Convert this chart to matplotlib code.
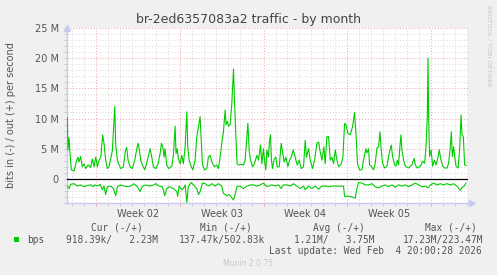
import matplotlib
matplotlib.use("Agg")
import matplotlib.pyplot as plt
from matplotlib.patches import Rectangle
from matplotlib.transforms import blended_transform_factory
import numpy as np

# time in days from the left edge of the graph, values in Mbit/s
OUT_T = [0.03, 0.08, 0.17, 0.25, 0.36, 0.59, 0.81, 0.92, 1.00, 1.14, 1.28, 1.42, 1.56, 1.76, 1.98,
         2.12, 2.26, 2.40, 2.54, 2.68, 2.82, 2.98, 3.09, 3.23, 3.37, 3.51, 3.65, 3.79, 3.87, 3.99,
         4.07, 4.21, 4.35, 4.49, 4.71, 4.88, 4.99, 5.10, 5.27, 5.46, 5.66, 5.83, 5.94, 6.05, 6.16,
         6.30, 6.49, 6.72, 6.94, 7.08, 7.22, 7.41, 7.61, 7.78, 7.89, 8.03, 8.11, 8.19, 8.33, 8.50,
         8.75, 8.89, 9.03, 9.11, 9.20, 9.31, 9.45, 9.59, 9.72, 9.87, 10.01, 10.09, 10.20, 10.37,
         10.51, 10.70, 10.84, 10.98, 11.12, 11.20, 11.31, 11.48, 11.68, 11.81, 11.96, 12.10, 12.32,
         12.51, 12.65, 12.79, 12.93, 13.07, 13.21, 13.29, 13.40, 13.49, 13.63, 13.77, 13.91, 13.99,
         14.11, 14.21, 14.32, 14.55, 14.74, 14.88, 15.03, 15.11, 15.22, 15.33, 15.50, 15.66, 15.86,
         16.00, 16.16, 16.28, 16.41, 16.50, 16.61, 16.70, 16.83, 16.92, 17.00, 17.08, 17.17, 17.31,
         17.45, 17.56, 17.73, 17.89, 18.00, 18.14, 18.29, 18.45, 18.59, 18.73, 18.90, 19.06, 19.23,
         19.40, 19.57, 19.76, 19.90, 20.01, 20.18, 20.32, 20.51, 20.68, 20.88, 21.02, 21.15, 21.30,
         21.46, 21.57, 21.71, 21.85, 21.99, 22.13, 22.27, 22.41, 22.55, 22.69, 22.91, 23.05, 23.19,
         23.30, 23.47, 23.66, 23.86, 24.02, 24.14, 24.27, 24.44, 24.64, 24.77, 24.97, 25.06, 25.19,
         25.28, 25.42, 25.61, 25.75, 25.89, 26.03, 26.14, 26.25, 26.36, 26.53, 26.73, 26.87, 27.01,
         27.09, 27.20, 27.37, 27.48, 27.59, 27.70, 27.81, 27.90, 27.98, 28.12, 28.26, 28.54, 28.82,
         28.99, 29.10, 29.26, 29.52, 29.71, 29.88, 29.99, 30.10, 30.16, 30.21, 30.29, 30.41, 30.55,
         30.69, 30.83, 31.00, 31.10, 31.21, 31.38, 31.55, 31.75, 31.88, 32.02, 32.11, 32.19, 32.30,
         32.39, 32.50, 32.67, 32.80, 32.92, 33.00, 33.11, 33.22, 33.33]
OUT_V = [10.2, 4.8, 6.8, 4.3, 1.5, 1.3, 3.1, 3.6, 2.8, 3.7, 2.0, 2.5, 1.7, 2.3, 1.9,
         3.3, 2.0, 3.6, 2.0, 3.1, 3.6, 7.3, 5.9, 3.1, 1.7, 2.0, 3.3, 4.7, 7.5, 12.0,
         5.6, 3.1, 2.3, 1.7, 2.0, 4.7, 5.2, 3.1, 2.0, 1.7, 3.1, 5.0, 5.9, 4.7, 3.1,
         2.3, 1.5, 3.1, 5.0, 3.6, 2.0, 1.7, 2.5, 4.2, 5.9, 5.0, 3.6, 5.0, 2.3, 1.7,
         2.1, 3.9, 8.7, 4.2, 5.0, 3.3, 2.5, 3.9, 2.5, 5.3, 11.1, 5.3, 3.1, 2.1,
         1.5, 3.1, 7.0, 8.7, 10.3, 7.0, 2.5, 1.5, 1.7, 3.6, 3.9, 2.8, 2.0,
         2.3, 1.7, 3.6, 5.9, 7.8, 11.4, 9.0, 9.5, 8.7, 9.0, 12.5, 18.2, 13.1,
         7.0, 2.5, 2.3, 2.4, 2.3, 3.1, 7.0, 9.2, 4.7, 3.1, 2.0, 2.5, 3.9,
         3.1, 5.6, 2.5, 5.0, 3.1, 1.5, 4.8, 3.6, 6.4, 7.3, 3.1, 1.7, 3.3,
         3.6, 2.0, 2.0, 5.9, 4.5, 2.8, 3.6, 2.0, 3.1, 3.6, 4.8, 3.6, 2.3,
         3.1, 1.7, 2.0, 6.4, 3.6, 5.0, 3.1, 1.7, 3.1, 5.9, 6.1, 4.5, 3.1,
         5.3, 2.5, 7.0, 7.0, 3.1, 3.6, 2.5, 4.8, 3.1, 2.0, 2.5, 3.6, 9.2,
         9.0, 7.5, 7.3, 8.7, 11.0, 7.5, 2.5, 1.5, 1.5, 3.1, 5.0, 4.3, 5.0,
         2.3, 2.1, 1.5, 2.6, 5.1, 5.3, 7.8, 4.8, 2.6, 1.8, 2.1, 3.7, 5.1,
         5.6, 3.7, 2.3, 2.1, 3.1, 2.3, 5.3, 7.3, 4.8, 3.1, 2.1, 1.8, 2.3,
         3.4, 2.3, 1.8, 2.1, 2.9, 2.6, 5.3, 10.3, 20.0, 10.3, 3.7, 4.8, 2.1,
         3.1, 2.3, 3.7, 4.8, 3.4, 2.1, 1.8, 1.8, 2.6, 5.3, 7.8, 3.7, 5.3,
         3.7, 2.1, 1.8, 4.8, 10.6, 7.3, 7.0, 2.3, 2.2]

IN_T = [0.03, 0.17, 0.31, 0.59, 0.86, 1.14, 1.42, 1.70, 1.98, 2.20, 2.31, 2.54, 2.76, 2.95, 3.09,
        3.23, 3.37, 3.65, 3.87, 4.07, 4.21, 4.49, 4.77, 5.04, 5.32, 5.60, 5.88, 6.10, 6.30, 6.58,
        6.86, 7.13, 7.41, 7.69, 7.97, 8.17, 8.33, 8.53, 8.89, 9.17, 9.25, 9.36, 9.59, 9.72, 9.87,
        10.01, 10.14, 10.37, 10.56, 10.84, 10.98, 11.12, 11.31, 11.54, 11.81, 12.10, 12.37, 12.65,
        12.93, 13.07, 13.35, 13.55, 13.71, 13.91, 14.05, 14.19, 14.46, 14.74, 15.03, 15.30, 15.58,
        15.86, 16.14, 16.41, 16.70, 16.83, 17.11, 17.39, 17.67, 17.89, 18.09, 18.37, 18.65, 18.92,
        19.20, 19.48, 19.76, 19.90, 20.18, 20.46, 20.74, 21.01, 21.29, 21.57, 21.85, 22.13, 22.41,
        22.83, 23.10, 23.19, 23.53, 23.81, 24.08, 24.22, 24.36, 24.64, 24.92, 25.19, 25.47, 25.75,
        26.03, 26.31, 26.59, 26.87, 27.15, 27.42, 27.70, 27.98, 28.26, 28.54, 28.82, 29.10, 29.38,
        29.66, 29.93, 30.16, 30.35, 30.63, 30.91, 31.19, 31.46, 31.74, 32.02, 32.30, 32.58, 32.86,
        33.00, 33.14, 33.33]
IN_V = [-1.2, -1.6, -0.9, -0.8, -1.2, -1.0, -1.3, -1.1, -1.0, -1.3, -1.0, -1.2, -0.9, -1.8, -1.2,
        -2.6, -1.3, -1.2, -1.6, -2.8, -1.3, -1.0, -1.2, -1.3, -1.2, -0.8, -1.3, -2.1, -1.2, -1.0,
        -1.2, -1.1, -0.8, -1.2, -1.3, -2.8, -1.6, -1.3, -1.6, -2.1, -2.9, -1.2, -1.8, -1.6, -1.0,
        -3.9, -1.3, -0.6, -1.0, -1.6, -2.6, -2.1, -0.7, -0.8, -1.2, -0.8, -1.2, -0.8,
        -1.2, -2.4, -2.8, -2.6, -3.0, -3.5, -2.6, -1.3, -1.2, -1.6, -1.2, -1.0, -1.0,
        -1.2, -1.0, -0.7, -1.3, -1.2, -1.0, -1.2, -1.0, -1.6, -1.0, -1.0, -1.2, -0.8,
        -1.2, -1.6, -1.2, -1.8, -1.2, -1.6, -1.2, -1.7, -1.2, -1.2, -1.3, -1.2, -1.2,
        -1.2, -1.2, -2.9, -2.9, -3.0, -3.2, -1.6, -0.6, -0.7, -1.0, -1.0, -0.8, -1.3,
        -1.5, -1.2, -1.0, -1.3, -1.0, -1.4, -1.0, -1.2, -1.0, -1.3, -1.0, -0.7, -1.0,
        -1.3, -1.2, -1.5, -1.0, -0.7, -1.0, -0.8, -1.0, -0.8, -1.0, -0.8, -1.2, -1.9,
        -1.4, -1.3, -0.7]

WEEK_STARTS = [2.42, 9.42, 16.42, 23.42, 30.42]
WEEK_LABELS = ["Week 02", "Week 03", "Week 04", "Week 05"]
YTICKS = [0, 5, 10, 15, 20, 25]
YTICK_LABELS = ["0", "5 M", "10 M", "15 M", "20 M", "25 M"]

TITLE = "br-2ed6357083a2 traffic - by month"
YLABEL = "bits in (-) / out (+) per second"
LEGEND_HEAD = ["Cur (-/+)", "Min (-/+)", "Avg (-/+)", "Max (-/+)"]
LEGEND_VALS = ["918.39k/   2.23M", "137.47k/502.83k", "1.21M/   3.75M", "17.23M/223.47M"]
LAST_UPDATE = "Last update: Wed Feb  4 20:00:28 2026"

W, H = 497, 275
BG = "#F0F0F0"
GREEN = "#00CC00"
AXC = "#C8C8F4"
TXT = "#555555"
MONO = "DejaVu Sans Mono"

fig = plt.figure(figsize=(W / 100, H / 100), dpi=100, facecolor=BG)
x0, x1, y0, y1 = 67, 468, 28, 203
ax = fig.add_axes([x0 / W, 1 - y1 / H, (x1 - x0) / W, (y1 - y0) / H])
ax.set_facecolor("white")

ax.set_xlim(0, 33.5)
ax.set_ylim(-4e6, 25e6)

# grid: days / weeks, 1M / 5M
ax.set_xticks(WEEK_STARTS)
ax.set_xticks(np.arange(0.42, 33.5, 1.0), minor=True)
ax.set_yticks([v * 1e6 for v in YTICKS])
ax.set_yticklabels(YTICK_LABELS, fontsize=7, color=TXT)
ax.set_yticks(np.arange(-4, 26, 1) * 1e6, minor=True)
ax.set_xticklabels([])
ax.grid(which="minor", color="#D8D8D8", ls=(0, (1, 2)), lw=0.7)
ax.grid(which="major", color="#F0A0A0", ls=(0, (1, 2)), lw=0.7)
ax.tick_params(axis="both", which="both", length=2, width=0.7, color="#C8C8C8", pad=4)
ax.tick_params(axis="x", which="major", color="#F0A0A0")
ax.set_axisbelow(True)

for s in ["top", "right"]:
    ax.spines[s].set_visible(False)
for s in ["left", "bottom"]:
    ax.spines[s].set_color(AXC)
    ax.spines[s].set_linewidth(1.0)

ax.axhline(0, color="black", lw=0.9, zorder=3)
ax.plot(np.array(OUT_T), np.array(OUT_V) * 1e6, color=GREEN, lw=0.8, zorder=4)
ax.plot(np.array(IN_T), np.array(IN_V) * 1e6, color=GREEN, lw=0.8, zorder=4)

# axis arrows
ax.plot([0], [1.0], marker="^", ms=5, color=AXC, transform=ax.transAxes, clip_on=False)
ax.plot([1.01], [0], marker=">", ms=5, color=AXC, transform=ax.transAxes, clip_on=False)

tr = blended_transform_factory(ax.transData, ax.transAxes)
for i, lab in enumerate(WEEK_LABELS):
    mid = (WEEK_STARTS[i] + WEEK_STARTS[i + 1]) / 2
    ax.text(mid, -0.035, lab, transform=tr, ha="center", va="top", fontsize=7, color=TXT)

fig.text(248 / W, 1 - 19 / H, TITLE, ha="center", va="center", fontsize=9, color="#444444")
fig.text(11 / W, 1 - 115 / H, YLABEL, rotation=90, ha="center", va="center", fontsize=7, color=TXT)
fig.text(489 / W, 1 - 5 / H, "RRDTOOL / TOBI OETIKER", rotation=270, ha="center", va="top",
         fontsize=4.6, color="#C4C4C4")

# legend block
head_right = [143, 252, 365, 477]
val_right = [158, 265, 375, 483]
for h, r in zip(LEGEND_HEAD, head_right):
    fig.text(r / W, 1 - 228 / H, h, ha="right", va="center", fontsize=6.85, family=MONO, color=TXT)
for v, r in zip(LEGEND_VALS, val_right):
    fig.text(r / W, 1 - 240 / H, v, ha="right", va="center", fontsize=6.85, family=MONO, color=TXT)
fig.patches.append(Rectangle((14 / W, 1 - 242 / H), 5 / W, 5 / H, transform=fig.transFigure,
                             facecolor=GREEN, edgecolor="none"))
fig.text(27 / W, 1 - 240 / H, "bps", ha="left", va="center", fontsize=6.85, family=MONO, color=TXT)
fig.text(482 / W, 1 - 251 / H, LAST_UPDATE, ha="right", va="center", fontsize=6.85, family=MONO,
         color=TXT)
fig.text(248 / W, 1 - 264 / H, "Munin 2.0.75", ha="center", va="center", fontsize=5.5, color="#C8C8C8")

fig.savefig("out.png", dpi=100, facecolor=BG)
